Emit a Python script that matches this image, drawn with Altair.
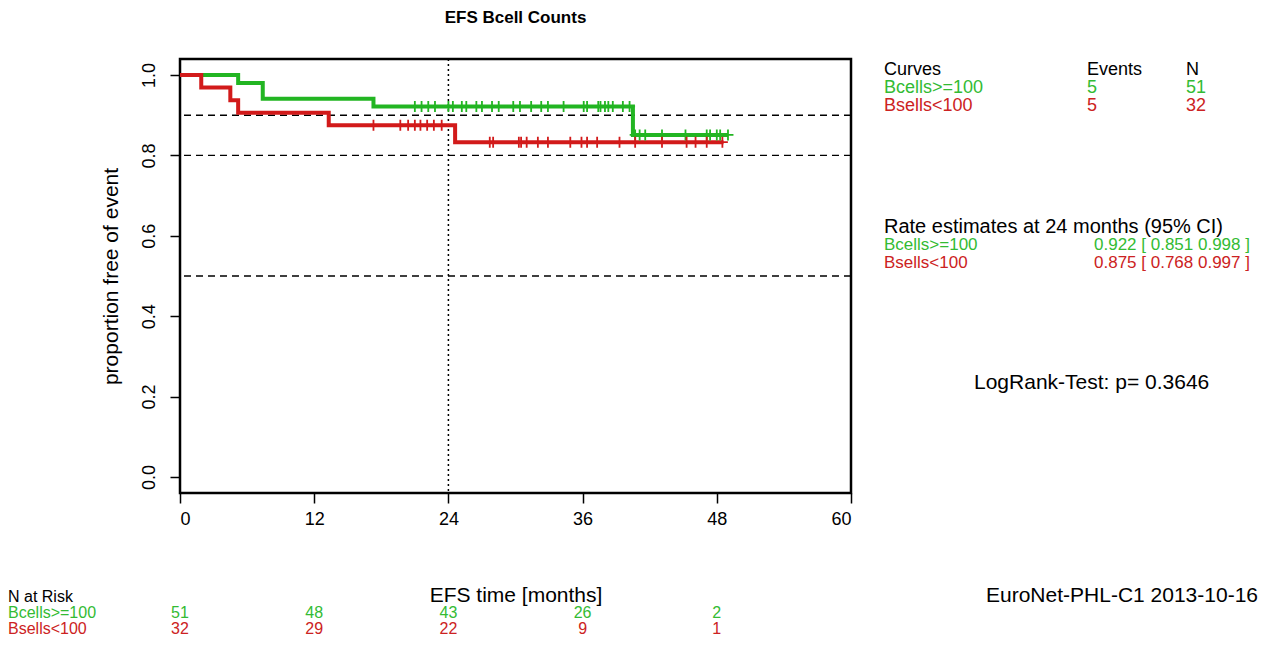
import altair as alt
import pandas as pd

FONT = "Liberation Sans"
GREEN = "#22b522"
RED = "#d21a1a"
GREEN_TXT = "#33bb33"
RED_TXT = "#cc2222"

groups = ["Bcells>=100", "Bsells<100"]

# Kaplan-Meier step curves (time in months, proportion free of event)
green_step_t = [0, 5.2, 7.4, 17.3, 40.5, 49.0]
green_step_s = [1.0, 0.980, 0.941, 0.922, 0.851, 0.851]
red_step_t = [0, 1.9, 4.5, 5.2, 13.3, 24.6, 48.6]
red_step_s = [1.0, 0.969, 0.9375, 0.906, 0.875, 0.833, 0.833]

# censoring marks
green_cens_t = [21.0, 21.6, 22.2, 22.8, 24.0, 24.4, 25.2, 25.6, 26.5, 27.0, 27.9, 28.5,
                29.8, 30.4, 31.4, 32.3, 32.9, 34.3, 36.1, 36.4, 37.4, 37.6, 38.0, 38.3,
                38.7, 39.6, 40.2,
                40.7, 41.1, 41.6, 43.1, 45.2, 47.1, 47.4, 48.0, 48.3, 49.0]
green_cens_s = [0.922] * 27 + [0.851] * 10
red_cens_t = [17.3, 19.7, 20.4, 21.0, 21.5, 22.1, 22.7, 23.4,
              27.7, 28.0, 30.3, 30.5, 31.0, 32.0, 32.9, 34.9, 35.9, 36.4, 37.3,
              39.3, 40.7, 43.1, 45.3, 46.1, 47.1, 48.5]
red_cens_s = [0.875] * 8 + [0.833] * 18

# reference lines
ref_h = [0.9, 0.8, 0.5]
ref_v = [24]

# numbers at risk
risk_months = [0, 12, 24, 36, 48]
risk_green = [51, 48, 43, 26, 2]
risk_red = [32, 29, 22, 9, 1]

x_ticks = [0, 12, 24, 36, 48, 60]
y_ticks = [0.0, 0.2, 0.4, 0.6, 0.8, 1.0]

W, H = 671, 434
xs = alt.Scale(domain=[0, 60], nice=False, zero=False)
ys = alt.Scale(domain=[-0.04, 1.04], nice=False, zero=False)

x_axis = alt.Axis(values=x_ticks, title="EFS time [months]", grid=False, domain=False,
                  tickSize=10, tickWidth=1.5, tickColor="black", labelFont=FONT,
                  labelFontSize=18, labelColor="black", labelPadding=7,
                  titleFont=FONT, titleFontSize=21, titleFontWeight="normal",
                  titleColor="black", titlePadding=56)
y_axis = alt.Axis(values=y_ticks, format=".1f", title="proportion free of event", grid=False,
                  domain=False, tickSize=10, tickWidth=1.5, tickColor="black",
                  labelFont=FONT, labelFontSize=18, labelColor="black", labelAngle=270,
                  labelAlign="center", labelBaseline="alphabetic", labelPadding=16,
                  titleFont=FONT, titleFontSize=21, titleFontWeight="normal",
                  titleColor="black", titlePadding=19)

h_df = pd.DataFrame({"y": ref_h})
hlines = alt.Chart(h_df).mark_rule(color="black", strokeDash=[7, 5], strokeWidth=1.3).encode(
    y=alt.Y("y:Q", scale=ys, axis=y_axis)
)
v_df = pd.DataFrame({"x": ref_v})
vline = alt.Chart(v_df).mark_rule(color="black", strokeDash=[2, 3], strokeWidth=1.5).encode(
    x=alt.X("x:Q", scale=xs, axis=x_axis)
)


def step_layer(t, s, color):
    df = pd.DataFrame({"t": t, "s": s})
    return alt.Chart(df).mark_line(interpolate="step-after", strokeWidth=4, color=color).encode(
        x=alt.X("t:Q", scale=xs, axis=x_axis), y=alt.Y("s:Q", scale=ys, axis=y_axis)
    )


def cens_layer(t, s, color):
    df = pd.DataFrame({"t": t, "s": s})
    return alt.Chart(df).mark_point(shape="M-1,0L1,0M0,-1L0,1", filled=False, size=120,
                                    strokeWidth=1.8, color=color, opacity=1).encode(
        x=alt.X("t:Q", scale=xs, axis=x_axis), y=alt.Y("s:Q", scale=ys, axis=y_axis)
    )


OX, OY = 180, 59  # page position of the plot origin


def txt(s, px, py, color="black", align="left", size=18, weight="normal"):
    return alt.Chart(pd.DataFrame({"s": [s]})).mark_text(
        align=align, baseline="middle", fontSize=size, fontWeight=weight, color=color, font=FONT
    ).encode(x=alt.value(px - OX), y=alt.value(py - OY), text="s:N")


texts = [
    txt("EFS Bcell Counts", 515.5, 18, align="center", size=17, weight="bold"),
    txt("Curves", 884, 70), txt("Events", 1087, 70), txt("N", 1186, 70),
    txt(groups[0], 884, 88, GREEN_TXT), txt("5", 1087, 88, GREEN_TXT), txt("51", 1186, 88, GREEN_TXT),
    txt(groups[1], 884, 106, RED_TXT), txt("5", 1087, 106, RED_TXT), txt("32", 1186, 106, RED_TXT),
    txt("Rate estimates at 24 months (95% CI)", 884, 227, size=20),
    txt(groups[0], 884, 245, GREEN_TXT, size=17), txt("0.922 [ 0.851 0.998 ]", 1094, 245, GREEN_TXT, size=17),
    txt(groups[1], 884, 263, RED_TXT, size=17), txt("0.875 [ 0.768 0.997 ]", 1094, 263, RED_TXT, size=17),
    txt("LogRank-Test: p= 0.3646", 974, 383, size=21),
    txt("EuroNet-PHL-C1 2013-10-16", 1258, 596, align="right", size=21),
    txt("N at Risk", 8, 597, size=16),
    txt(groups[0], 8, 613, GREEN_TXT, size=16),
    txt(groups[1], 8, 629, RED_TXT, size=16),
]


def risk_layer(vals, color, py):
    df = pd.DataFrame({"m": risk_months, "n": vals})
    return alt.Chart(df).mark_text(align="center", baseline="middle", fontSize=16,
                                   color=color, font=FONT).encode(
        x=alt.X("m:Q", scale=xs, axis=x_axis), y=alt.value(py - OY), text="n:Q"
    )


chart = alt.layer(
    hlines, vline,
    step_layer(green_step_t, green_step_s, GREEN),
    step_layer(red_step_t, red_step_s, RED),
    cens_layer(green_cens_t, green_cens_s, GREEN),
    cens_layer(red_cens_t, red_cens_s, RED),
    risk_layer(risk_green, GREEN_TXT, 613),
    risk_layer(risk_red, RED_TXT, 629),
    *texts,
).properties(
    width=W, height=H,
    autosize=alt.AutoSizeParams(type="none"),
    padding={"left": 172, "top": 51, "right": 415, "bottom": 145},
    background="white",
).configure_view(stroke="black", strokeWidth=2.5)

chart.save("out.html", embed_options={"renderer": "svg", "actions": False})
